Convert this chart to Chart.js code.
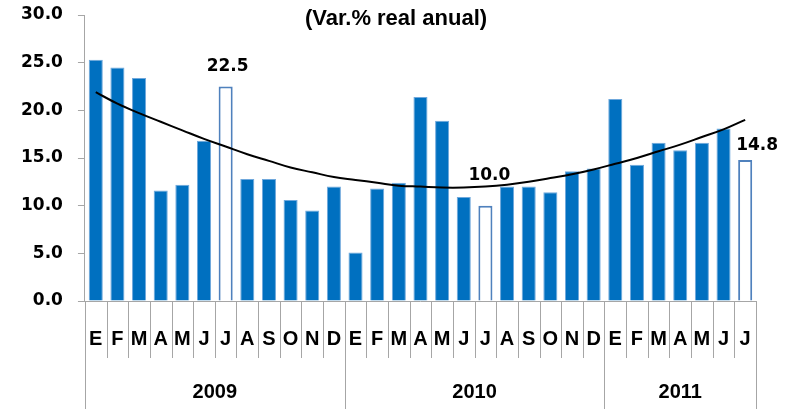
<!DOCTYPE html>
<html>
<head>
<meta charset="utf-8">
<script src="https://cdn.jsdelivr.net/npm/chart.js@4.4.1/dist/chart.umd.min.js"></script>
<style>
  html, body { margin: 0; padding: 0; background: #ffffff; }
  #wrap { width: 788px; height: 409px; position: relative; }
</style>
</head>
<body>
<div id="wrap"><canvas id="c" width="788" height="409"></canvas></div>
<script>
// ---- data ----
const months = ['E','F','M','A','M','J','J','A','S','O','N','D',
                'E','F','M','A','M','J','J','A','S','O','N','D',
                'E','F','M','A','M','J','J'];
const years = ['2009', '2010', '2011'];
const yearSpans = [12, 12, 7];
const values = [25.3, 24.5, 23.4, 11.6, 12.2, 16.8, 22.5, 12.8, 12.8, 10.6, 9.5, 12.0,
                5.1, 11.8, 12.4, 21.4, 18.9, 10.9, 10.0, 12.0, 12.0, 11.4, 13.6, 13.9,
                21.2, 14.3, 16.6, 15.8, 16.6, 18.1, 14.8];
const trend = [21.9, 20.7, 19.7, 18.8, 17.9, 17.0, 16.2, 15.4, 14.7, 14.0, 13.5, 13.0,
               12.7, 12.4, 12.1, 12.0, 11.9, 11.9, 12.0, 12.2, 12.5, 12.9, 13.3, 13.8,
               14.4, 15.0, 15.7, 16.4, 17.2, 18.0, 19.0];
const highlighted = [6, 18, 30];   // July bars shown hollow with value label
const yTicks = [0, 5, 10, 15, 20, 25, 30];
const subtitle = '(Var.% real anual)';

const BLUE = '#0070C0';
const isHollow = i => highlighted.includes(i);

const overlay = {
  id: 'overlay',
  afterDatasetsDraw(chart) {
    const ctx = chart.ctx;
    const x = chart.scales.x, y = chart.scales.y;
    const n = months.length;
    const w = (x.right - x.left) / n;
    const base = y.bottom;
    ctx.save();
    // separators
    ctx.strokeStyle = '#A6A6A6';
    ctx.lineWidth = 1;
    const yearBounds = [0];
    let acc = 0;
    yearSpans.forEach(s => { acc += s; yearBounds.push(acc); });
    for (let i = 0; i <= n; i++) {
      const px = Math.round(x.left + i * w) + 0.5;
      const long = yearBounds.includes(i);
      ctx.beginPath();
      ctx.moveTo(px, base);
      ctx.lineTo(px, long ? chart.height : base + 57);
      ctx.stroke();
    }
    // year labels
    ctx.fillStyle = '#000';
    ctx.font = 'bold 20px "Liberation Sans", Arial, sans-serif';
    ctx.textAlign = 'center';
    ctx.textBaseline = 'middle';
    years.forEach((yr, k) => {
      const cx = x.left + (yearBounds[k] + yearBounds[k + 1]) / 2 * w;
      ctx.fillText(yr, cx, base + 91);
    });
    // value labels
    ctx.font = 'bold 17px "DejaVu Sans", sans-serif';
    const offs = {6: [2, -20], 18: [4, -30], 30: [12, -14]};
    highlighted.forEach(i => {
      const px = x.getPixelForValue(i);
      const py = y.getPixelForValue(values[i]);
      const o = offs[i];
      ctx.fillText(values[i].toFixed(1), px + o[0], py + o[1]);
    });
    // subtitle
    ctx.font = 'bold 22px "Liberation Sans", Arial, sans-serif';
    ctx.fillText(subtitle, 396, 19);
    ctx.restore();
  }
};

new Chart(document.getElementById('c'), {
  data: {
    labels: months,
    datasets: [
      {
        type: 'line',
        data: trend,
        borderColor: '#000000',
        borderWidth: 2,
        pointRadius: 0,
        tension: 0.4,
        fill: false,
        order: 0
      },
      {
        type: 'bar',
        data: values,
        backgroundColor: values.map((v, i) => isHollow(i) ? '#FFFFFF' : BLUE),
        borderColor: values.map((v, i) => isHollow(i) ? '#4F81BD' : '#6FA8DC'),
        borderWidth: values.map((v, i) => isHollow(i) ? 2 : 1),
        barPercentage: 0.65,
        categoryPercentage: 1.0,
        order: 1
      }
    ]
  },
  options: {
    responsive: false,
    animation: false,
    devicePixelRatio: 1,
    layout: { padding: { top: 15, left: 6, right: 32, bottom: 32 } },
    plugins: { legend: { display: false }, tooltip: { enabled: false }, title: { display: false } },
    scales: {
      x: {
        type: 'category',
        offset: true,
        grid: { display: false, drawTicks: false },
        border: { display: true, color: '#A6A6A6', width: 1 },
        ticks: {
          autoSkip: false, maxRotation: 0, minRotation: 0,
          padding: 26,
          color: '#000',
          font: { family: '"Liberation Sans Narrow", "Liberation Sans", Arial, sans-serif', size: 20, weight: 'bold' }
        }
      },
      y: {
        min: 0, max: 30,
        afterBuildTicks: (s) => { s.ticks = yTicks.map(v => ({ value: v })); },
        afterFit: (s) => { s.paddingTop = 0; s.paddingBottom = 0; },
        grid: { drawOnChartArea: false, drawTicks: true, tickLength: 7, color: '#A6A6A6' },
        border: { display: true, color: '#A6A6A6', width: 1 },
        ticks: {
          padding: 15,
          color: '#000',
          font: { family: '"DejaVu Sans", sans-serif', size: 17, weight: 'bold' },
          callback: (v) => Number(v).toFixed(1)
        }
      }
    }
  },
  plugins: [overlay]
});
</script>
</body>
</html>
